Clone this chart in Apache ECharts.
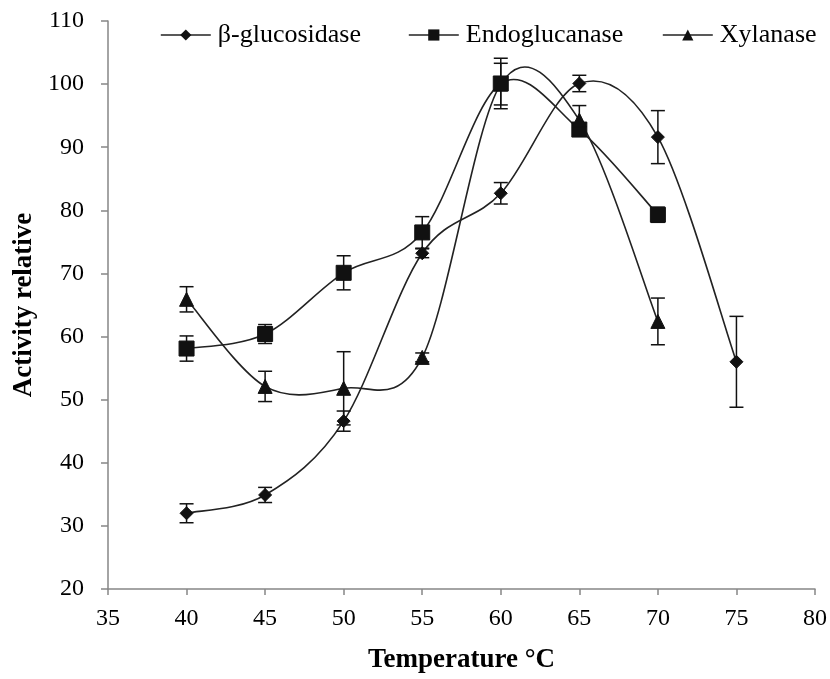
<!DOCTYPE html>
<html>
<head>
<meta charset="utf-8">
<script src="https://cdn.jsdelivr.net/npm/echarts@6/dist/echarts.min.js"></script>
<style>
  html, body { margin: 0; padding: 0; background: #fff; }
  #chart { width: 830px; height: 679px; }
</style>
</head>
<body>
<div id="chart"></div>
<script>
// Relative enzyme activity (%) versus temperature (°C), mean ± error
const temperatures = [40, 45, 50, 55, 60, 65, 70, 75];

const glucosidase    = [32.0, 34.9, 46.6, 73.2, 82.7, 100.1, 91.6, 56.0];
const glucosidaseErr = [1.5, 1.2, 1.6, 0.7, 1.7, 1.3, 4.2, 7.2];

const endoglucanase    = [58.1, 60.4, 70.1, 76.5, 100.1, 92.8, 79.3];
const endoglucanaseErr = [2.0, 1.5, 2.7, 2.5, 4.0, 1.0, 1.2];

const xylanase    = [65.9, 52.1, 51.8, 56.7, 100.0, 94.3, 62.4];
const xylanaseErr = [2.0, 2.4, 5.8, 0.7, 3.3, 2.3, 3.7];

const seriesNames = ['β-glucosidase', 'Endoglucanase', 'Xylanase'];
const xTicks = { min: 35, max: 80, interval: 5 };
const yTicks = { min: 20, max: 110, interval: 10 };

const SERIF = '"Liberation Serif", "Times New Roman", serif';
const INK = '#111';
const CURVE = '#222';

function points(values) {
  return values.map((v, i) => [temperatures[i], v]);
}
function errPoints(values, errs) {
  return values.map((v, i) => [temperatures[i], v, errs[i]]);
}

// Vertical error bar with caps, positioned through the axes
function renderErrorBar(params, api) {
  const x = api.value(0), y = api.value(1), e = api.value(2);
  const top = api.coord([x, y + e]);
  const bot = api.coord([x, y - e]);
  const half = 7;
  const style = { stroke: INK, lineWidth: 1.5 };
  return {
    type: 'group',
    children: [
      { type: 'line', shape: { x1: top[0], y1: top[1], x2: bot[0], y2: bot[1] }, style },
      { type: 'line', shape: { x1: top[0] - half, y1: top[1], x2: top[0] + half, y2: top[1] }, style },
      { type: 'line', shape: { x1: bot[0] - half, y1: bot[1], x2: bot[0] + half, y2: bot[1] }, style }
    ]
  };
}

// Smoothed connector: a Catmull-Rom style cubic Bezier between each pair
// of neighbouring points, with control points taken from the neighbours.
function curveRenderer(values) {
  return function (params, api) {
    const i = params.dataIndex;
    const n = values.length;
    if (i >= n - 1) return null;
    const at = k => {
      const j = Math.max(0, Math.min(n - 1, k));
      return api.coord([temperatures[j], values[j]]);
    };
    const p0 = at(i - 1), p1 = at(i), p2 = at(i + 1), p3 = at(i + 2);
    return {
      type: 'bezierCurve',
      shape: {
        x1: p1[0], y1: p1[1],
        x2: p2[0], y2: p2[1],
        cpx1: p1[0] + (p2[0] - p0[0]) / 6,
        cpy1: p1[1] + (p2[1] - p0[1]) / 6,
        cpx2: p2[0] - (p3[0] - p1[0]) / 6,
        cpy2: p2[1] - (p3[1] - p1[1]) / 6
      },
      style: { stroke: CURVE, lineWidth: 1.6, fill: null }
    };
  };
}

function curveSeries(values) {
  return {
    type: 'custom',
    renderItem: curveRenderer(values),
    data: points(values),
    encode: { x: 0, y: 1 },
    z: 1,
    silent: true
  };
}

// Markers (and legend entries) for each enzyme
function markerSeries(name, values, symbol, size) {
  return {
    name,
    type: 'line',
    data: points(values),
    symbol,
    symbolSize: size,
    showAllSymbol: true,
    z: 3,
    lineStyle: { color: CURVE, width: 1.6, opacity: 0 },
    itemStyle: { color: INK, borderColor: INK },
    emphasis: { disabled: true }
  };
}

function errorSeries(values, errs) {
  return {
    type: 'custom',
    renderItem: renderErrorBar,
    data: errPoints(values, errs),
    encode: { x: 0, y: 1 },
    z: 2,
    silent: true
  };
}

function legendAt(name, left) {
  return {
    data: [name],
    left,
    top: 17,
    itemWidth: 50,
    itemHeight: 14,
    lineStyle: { color: CURVE, width: 1.6, opacity: 1 },
    textStyle: { fontFamily: SERIF, fontSize: 26, color: '#000', padding: [0, 0, 0, 2] },
    selectedMode: false
  };
}

const chart = echarts.init(document.getElementById('chart'), null, { renderer: 'canvas' });

chart.setOption({
  backgroundColor: '#fff',
  animation: false,
  grid: { left: 108, right: 15, top: 21, bottom: 90, containLabel: false },
  legend: [
    legendAt(seriesNames[0], 155),
    legendAt(seriesNames[1], 403),
    legendAt(seriesNames[2], 657)
  ],
  xAxis: {
    type: 'value',
    min: xTicks.min, max: xTicks.max, interval: xTicks.interval,
    name: 'Temperature °C',
    nameLocation: 'middle',
    nameGap: 58,
    nameTextStyle: { fontFamily: SERIF, fontSize: 27, fontWeight: 'bold', color: '#000' },
    axisLine: { lineStyle: { color: '#868686', width: 1.5 } },
    axisTick: { show: true, inside: false, length: 6, lineStyle: { color: '#868686', width: 1.5 } },
    axisLabel: { fontFamily: SERIF, fontSize: 24, color: '#000', margin: 18 },
    splitLine: { show: false }
  },
  yAxis: {
    type: 'value',
    min: yTicks.min, max: yTicks.max, interval: yTicks.interval,
    name: 'Activity relative',
    nameLocation: 'middle',
    nameRotate: 90,
    nameGap: 68,
    nameTextStyle: { fontFamily: SERIF, fontSize: 27, fontWeight: 'bold', color: '#000' },
    axisLine: { show: true, lineStyle: { color: '#868686', width: 1.5 } },
    axisTick: { show: true, inside: false, length: 7, lineStyle: { color: '#868686', width: 1.5 } },
    axisLabel: { fontFamily: SERIF, fontSize: 24, color: '#000', margin: 24 },
    splitLine: { show: false }
  },
  series: [
    curveSeries(glucosidase),
    curveSeries(endoglucanase),
    curveSeries(xylanase),
    errorSeries(glucosidase, glucosidaseErr),
    errorSeries(endoglucanase, endoglucanaseErr),
    errorSeries(xylanase, xylanaseErr),
    markerSeries(seriesNames[0], glucosidase, 'diamond', 13),
    markerSeries(seriesNames[1], endoglucanase, 'rect', 15),
    markerSeries(seriesNames[2], xylanase, 'triangle', 14)
  ]
});
</script>
</body>
</html>
